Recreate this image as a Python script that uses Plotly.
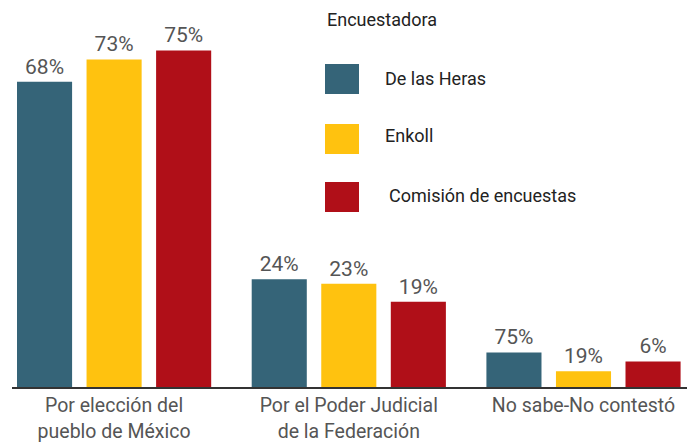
import plotly.graph_objects as go

# ---- data ----
categories = ["Por elección del<br>pueblo de México",
              "Por el Poder Judicial<br>de la Federación",
              "No sabe-No contestó"]
series_names = ["De las Heras", "Enkoll", "Comisión de encuestas"]
series_colors = ["#356478", "#FFC20F", "#B00F18"]
# bar heights as drawn (percent)
de_las_heras = [68, 24, 7.7]
enkoll = [73, 23, 3.5]
comision = [75, 19, 5.7]
# printed labels as shown in the picture
de_las_heras_labels = ["68%", "24%", "75%"]
enkoll_labels = ["73%", "23%", "19%"]
comision_labels = ["75%", "19%", "6%"]
legend_title = "Encuestadora"

values = [de_las_heras, enkoll, comision]
labels = [de_las_heras_labels, enkoll_labels, comision_labels]

FONT = "Roboto, Arial, sans-serif"

W, H = 694, 444
L, R, T, B = 12, 7, 28, 57

fig = go.Figure()
for name, col, v, lab in zip(series_names, series_colors, values, labels):
    fig.add_trace(go.Bar(
        x=categories, y=v, name=name, marker=dict(color=col, line=dict(width=0)),
        text=lab, textposition="outside", cliponaxis=False,
        constraintext="none",
        textfont=dict(family=FONT, size=21, color="#555555"),
        showlegend=False,
    ))

def px_x(p):
    return (p - L) / (W - L - R)

def px_y(p):
    return (H - B - p) / (H - T - B)

shapes = []
annotations = [dict(text=legend_title, xref="paper", yref="paper",
                    x=px_x(325), y=px_y(20), xanchor="left", yanchor="middle",
                    showarrow=False, font=dict(family=FONT, size=18, color="#222222"))]
sq_tops = [64, 124, 182]
txt_x = [383, 383, 387]
txt_y = [78, 135, 195]
for i, (name, col) in enumerate(zip(series_names, series_colors)):
    top = sq_tops[i]
    shapes.append(dict(type="rect", xref="paper", yref="paper",
                       x0=px_x(325), x1=px_x(359), y0=px_y(top + 30), y1=px_y(top),
                       fillcolor=col, line=dict(width=0)))
    annotations.append(dict(text=name, xref="paper", yref="paper",
                            x=px_x(txt_x[i]), y=px_y(txt_y[i]), xanchor="left", yanchor="middle",
                            showarrow=False, font=dict(family=FONT, size=18, color="#222222")))

fig.update_layout(
    width=W, height=H,
    margin=dict(l=L, r=R, t=T, b=B, pad=0, autoexpand=False),
    paper_bgcolor="white", plot_bgcolor="white",
    barmode="group", bargap=0.111, bargroupgap=0.208,
    shapes=shapes, annotations=annotations,
    xaxis=dict(type="category", range=[-0.435, 2.441], showline=True, linecolor="#333333",
               linewidth=2, ticks="", showgrid=False, zeroline=False, automargin=False,
               tickfont=dict(family=FONT, size=19.5, color="#555555")),
    yaxis=dict(range=[0, 80], visible=False, showgrid=False, zeroline=False, automargin=False),
    showlegend=False,
)

fig.write_html("out.html", config={"displayModeBar": False},
               post_script="document.body.style.margin='0';document.body.style.overflow='hidden';")
